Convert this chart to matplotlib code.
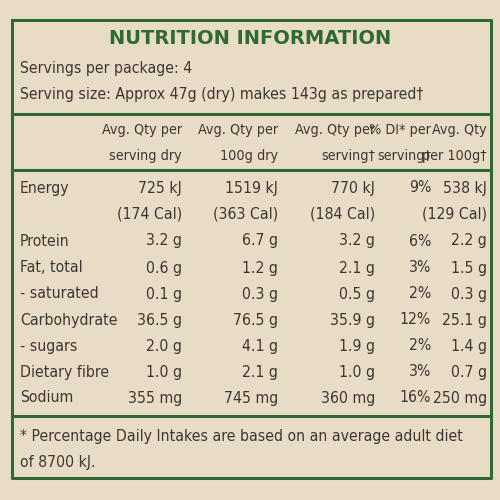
import matplotlib
matplotlib.use("Agg")
import matplotlib.pyplot as plt

title = "NUTRITION INFORMATION"
servings = "Servings per package: 4"
serving_size = "Serving size: Approx 47g (dry) makes 143g as prepared†"
headers = [("Avg. Qty per", "serving dry"), ("Avg. Qty per", "100g dry"),
           ("Avg. Qty per", "serving†"), ("% DI* per", "serving†"), ("Avg. Qty", "per 100g†")]
nutrients = ["Energy", "", "Protein", "Fat, total", "- saturated", "Carbohydrate",
             "- sugars", "Dietary fibre", "Sodium"]
col1 = ["725 kJ", "(174 Cal)", "3.2 g", "0.6 g", "0.1 g", "36.5 g", "2.0 g", "1.0 g", "355 mg"]
col2 = ["1519 kJ", "(363 Cal)", "6.7 g", "1.2 g", "0.3 g", "76.5 g", "4.1 g", "2.1 g", "745 mg"]
col3 = ["770 kJ", "(184 Cal)", "3.2 g", "2.1 g", "0.5 g", "35.9 g", "1.9 g", "1.0 g", "360 mg"]
col4 = ["9%", "", "6%", "3%", "2%", "12%", "2%", "3%", "16%"]
col5 = ["538 kJ", "(129 Cal)", "2.2 g", "1.5 g", "0.3 g", "25.1 g", "1.4 g", "0.7 g", "250 mg"]
footnote = ["* Percentage Daily Intakes are based on an average adult diet", "of 8700 kJ."]

bg = "#e9dcc6"; green = "#2f6a35"; ink = "#3b3833"
fam = ["DejaVu Sans"]
kw = dict(color=ink, family=fam, fontstretch="condensed", va="center")

fig = plt.figure(figsize=(5, 5), dpi=100, facecolor=bg)
ax = fig.add_axes([0, 0, 1, 1]); ax.set_xlim(0, 500); ax.set_ylim(500, 0); ax.axis("off")

lw = 2.2
ax.plot([12, 12, 491, 491, 12], [20, 478, 478, 20, 20], color=green, lw=lw)
for y in [114, 170, 416]:
    ax.plot([12, 491], [y, y], color=green, lw=lw)

fs = 11.3
ax.text(250, 38, title, ha="center", va="center", fontsize=14, fontweight="bold", color=green, family=fam)
ax.text(20, 68, servings, ha="left", fontsize=fs, **kw)
ax.text(20, 94, serving_size, ha="left", fontsize=fs, **kw)

xs = [182, 278, 375, 431, 487]
for x, (h1, h2) in zip(xs, headers):
    ax.text(x, 130, h1, ha="right", fontsize=10.3, **kw)
    ax.text(x, 156, h2, ha="right", fontsize=10.3, **kw)

ys = [188, 214, 241, 268, 294, 320, 346, 372, 398]
for i, y in enumerate(ys):
    ax.text(20, y, nutrients[i], ha="left", fontsize=fs, **kw)
    for x, col in zip(xs, [col1, col2, col3, col4, col5]):
        ax.text(x, y, col[i], ha="right", fontsize=fs, **kw)

ax.text(20, 437, footnote[0], ha="left", fontsize=fs, **kw)
ax.text(20, 462, footnote[1], ha="left", fontsize=fs, **kw)

fig.savefig("out.png", dpi=100, facecolor=bg)
